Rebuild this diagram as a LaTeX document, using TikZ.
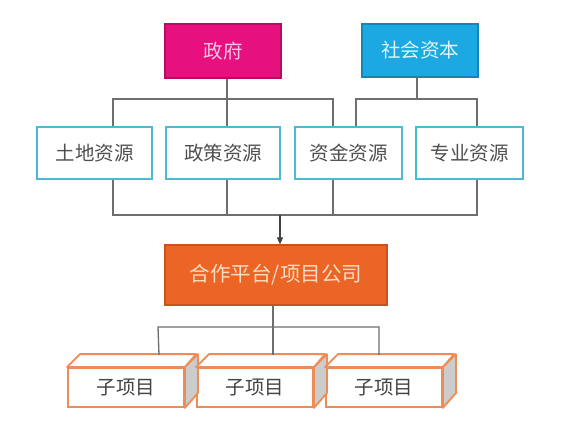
\documentclass[tikz,border=0pt]{standalone}
\usepackage{fontspec}
\setmainfont{Noto Sans CJK SC}
\usetikzlibrary{arrows.meta}
\definecolor{pinkfill}{HTML}{E6107F}
\definecolor{pinkdraw}{HTML}{B80C64}
\definecolor{pinktext}{HTML}{FAC8E6}
\definecolor{bluefill}{HTML}{1CA8E0}
\definecolor{bluedraw}{HTML}{1585B5}
\definecolor{bluetext}{HTML}{E2F5FD}
\definecolor{resdraw}{HTML}{4DB9D2}
\definecolor{restext}{HTML}{505050}
\definecolor{orfill}{HTML}{EA6526}
\definecolor{ordraw}{HTML}{C9531C}
\definecolor{ortext}{HTML}{FDDCC2}
\definecolor{subdraw}{HTML}{EE8C56}
\definecolor{subside}{HTML}{CCCCCC}
\definecolor{linegray}{HTML}{6E6E6E}
\tikzset{
  x=1pt, y=-1pt,
  topbox/.style={rectangle, inner sep=0pt, line width=1.2pt, font=\fontsize{19.5}{20}\selectfont},
  resbox/.style={rectangle, inner sep=0pt, draw=resdraw, fill=white, line width=2.2pt, minimum height=52pt, text=restext, font=\fontsize{19.5}{20}\selectfont},
  subbox/.style={rectangle, inner sep=0pt, draw=subdraw, fill=white, line width=1.8pt, minimum width=116pt, minimum height=39pt, text=restext!85!black, font=\fontsize{19.5}{20}\selectfont},
  conn/.style={draw=linegray, line width=1.3pt},
}
\begin{document}
\begin{tikzpicture}
\useasboundingbox (0,0) rectangle (572,428);
\fill[white] (0,0) rectangle (572,428);

% top boxes
\node[topbox, fill=pinkfill, draw=pinkdraw, text=pinktext, minimum width=116pt, minimum height=54pt] (gov) at (223,51) {政府};
\node[topbox, fill=bluefill, draw=bluedraw, text=bluetext, minimum width=116pt, minimum height=53pt] (cap) at (420,50.5) {社会资本};

% resource boxes
\node[resbox, minimum width=115pt] (r1) at (94.5,153) {土地资源};
\node[resbox, minimum width=114pt] (r2) at (223,153) {政策资源};
\node[resbox, minimum width=107pt] (r3) at (348.5,153) {资金资源};
\node[resbox, minimum width=107pt] (r4) at (469.5,153) {专业资源};

% platform
\node[topbox, fill=orfill, draw=ordraw, text=ortext, minimum width=222pt, minimum height=60pt, font=\fontsize{20.5}{21}\selectfont] (plat) at (276,275) {合作平台/项目公司};

% sub projects (front faces)
\node[subbox] (s1) at (126,387.5) {子项目};
\node[subbox] (s2) at (255,387.5) {子项目};
\node[subbox] (s3) at (384,387.5) {子项目};

% 3D top and side faces
\foreach \s in {s1,s2,s3}{
  \draw[draw=subdraw, fill=white, line width=1.8pt, line join=round]
    (\s.north west) -- ++(13,-13) -- ++(116,0) -- (\s.north east) -- cycle;
  \draw[draw=subdraw, fill=subside, line width=1.8pt, line join=round]
    (\s.north east) -- ++(13,-13) -- ++(0,39) -- (\s.south east) -- cycle;
}
\coordinate (s1t) at (159,355);
\coordinate (s2t) at (273,355);
\coordinate (s3t) at (379,355);

% coordinates for buses
\coordinate (ga) at (227,99);
\coordinate (gl) at (113,99);
\coordinate (gr) at (333,99);
\coordinate (ca) at (417,99);
\coordinate (cl) at (356,99);
\coordinate (cr) at (477,99);
\coordinate (bl) at (113,215);
\coordinate (bm) at (227,215);
\coordinate (bn) at (333,215);
\coordinate (br) at (477,215);
\coordinate (ba) at (280,215);
\coordinate (pl) at (158,327);
\coordinate (pm) at (273,327);
\coordinate (pr) at (379,327);

% government connectors
\draw[conn] (gov.south -| ga) -- (ga);
\draw[conn] (r1.north -| gl) -- (gl) -- (gr) -- (r3.north -| gr);
\draw[conn] (ga) -- (r2.north -| ga);
% capital connectors
\draw[conn] (cap.south -| ca) -- (ca);
\draw[conn] (r3.north -| cl) -- (cl) -- (cr) -- (r4.north -| cr);
% bottom bus
\draw[conn] (r1.south -| bl) -- (bl) -- (br) -- (r4.south -| br);
\draw[conn] (r2.south -| bm) -- (bm);
\draw[conn] (r3.south -| bn) -- (bn);
\draw[conn, -{Triangle[length=7pt,width=6pt]}, color=linegray!60!black] (ba) -- (plat.north -| ba);
% platform to sub projects
\draw[conn] (plat.south -| pm) -- (pm);
\draw[conn] (s1t) -- (pl) -- (pr) -- (s3t);
\draw[conn] (pm) -- (s2t);
\end{tikzpicture}
\end{document}
